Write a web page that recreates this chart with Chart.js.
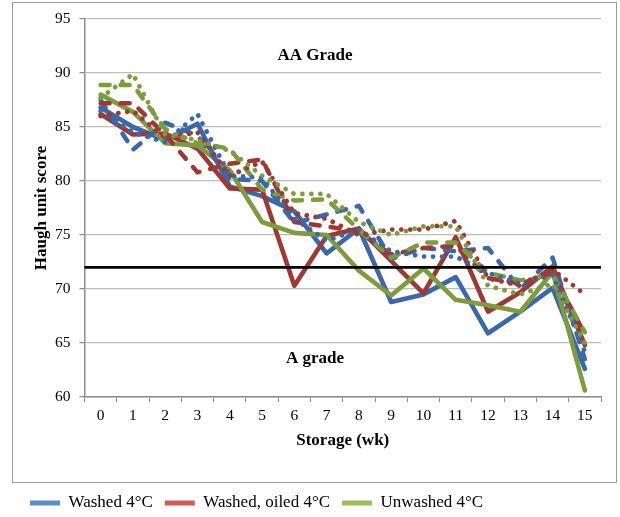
<!DOCTYPE html>
<html>
<head>
<meta charset="utf-8">
<script src="https://cdn.jsdelivr.net/npm/chart.js@4.4.1/dist/chart.umd.min.js"></script>
<style>
  html, body { margin: 0; padding: 0; background: #ffffff; }
  #wrap { width: 620px; height: 517px; }
</style>
</head>
<body>
<div id="wrap"><canvas id="chart" width="620" height="517"></canvas></div>
<script>
// Storage weeks (x categories)
const weeks = ['0','1','2','3','4','5','6','7','8','9','10','11','12','13','14','15'];

// Haugh unit scores, three runs per treatment
const washedRun1   = [86.8, 85.0, 83.8, 85.3, 79.5, 78.6, 77.2, 73.3, 75.6, 68.8, 69.5, 71.1, 65.9, 67.9, 70.1, 62.6];
const oiledRun1    = [86.2, 84.3, 84.4, 83.0, 79.3, 79.2, 70.3, 74.9, 75.6, 72.6, 69.6, 74.8, 67.9, 69.7, 72.1, 64.8];
const unwashedRun1 = [88.0, 86.4, 83.5, 83.3, 81.0, 76.2, 75.2, 75.0, 71.7, 69.4, 71.9, 69.0, 68.5, 67.9, 71.6, 60.6];

const washedRun2   = [87.5, 82.9, 85.4, 84.2, 80.2, 80.0, 76.1, 76.9, 77.7, 72.8, 73.8, 73.5, 73.8, 70.0, 72.9, 63.5];
const oiledRun2    = [87.2, 87.2, 84.3, 80.8, 81.6, 82.0, 76.2, 75.8, 75.3, 73.2, 73.8, 74.0, 71.0, 70.5, 71.5, 65.8];
const unwashedRun2 = [88.9, 88.9, 84.8, 83.5, 83.0, 79.2, 78.2, 78.3, 75.5, 72.9, 74.3, 74.3, 71.5, 70.8, 71.3, 66.0];

const washedRun3   = [86.5, 84.5, 83.6, 86.2, 80.5, 80.3, 76.5, 74.5, 75.5, 73.5, 73.0, 73.0, 71.5, 70.5, 71.3, 64.2];
const oiledRun3    = [86.0, 86.5, 84.0, 84.5, 80.5, 81.8, 77.0, 76.5, 75.0, 75.5, 75.5, 76.3, 71.0, 70.3, 71.8, 69.5];
const unwashedRun3 = [87.7, 89.9, 84.3, 83.8, 82.8, 80.5, 78.8, 78.8, 76.2, 75.0, 75.8, 75.8, 70.3, 69.5, 70.5, 65.0];

// Grade boundary and region labels
const gradeLimit = 72;
const gradeLabels = [
  { text: 'AA Grade', week: 6.64, score: 91.6 },
  { text: 'A grade',  week: 6.64, score: 63.6 }
];

const treatmentNames = ['Washed 4°C', 'Washed, oiled 4°C', 'Unwashed 4°C'];
const lineColors   = ['#3A68A8', '#9E3835', '#7E9C3E'];
const legendColors = ['#5B8DC9', '#CD5C57', '#9CBD5C'];

const SERIF = '"Liberation Serif", "Times New Roman", serif';
const DOT = [0.01, 9];
const DASH = [9, 11];

function series(label, data, colorIdx, dash, width) {
  return {
    label: label,
    data: data,
    borderColor: lineColors[colorIdx],
    backgroundColor: lineColors[colorIdx],
    borderWidth: width,
    borderDash: dash,
    borderCapStyle: 'round',
    borderJoinStyle: 'round',
    pointRadius: 0,
    pointHoverRadius: 0,
    tension: 0,
    fill: false
  };
}

const datasets = [
  series(treatmentNames[0], washedRun1, 0, [], 4.6),
  series(treatmentNames[1], oiledRun1, 1, [], 4.6),
  series(treatmentNames[2], unwashedRun1, 2, [], 4.6),
  series(treatmentNames[0] + ' (2)', washedRun2, 0, DASH, 4.5),
  series(treatmentNames[1] + ' (2)', oiledRun2, 1, DASH, 4.5),
  series(treatmentNames[2] + ' (2)', unwashedRun2, 2, DASH, 4.5),
  series(treatmentNames[0] + ' (3)', washedRun3, 0, DOT, 4.8),
  series(treatmentNames[1] + ' (3)', oiledRun3, 1, DOT, 4.8),
  series(treatmentNames[2] + ' (3)', unwashedRun3, 2, DOT, 4.8)
];
// later series paint over earlier ones
datasets.forEach((d, i) => { d.order = datasets.length - i; });

// Outer frame, grade boundary line and region captions
const decorations = {
  id: 'decorations',
  beforeDraw(chart) {
    const ctx = chart.ctx;
    ctx.save();
    ctx.strokeStyle = '#9a9a9a';
    ctx.lineWidth = 1;
    ctx.strokeRect(12.5, 2.5, 604, 480);
    ctx.restore();
  },
  afterDatasetsDraw(chart) {
    const ctx = chart.ctx;
    const area = chart.chartArea;
    const x = chart.scales.x, y = chart.scales.y;
    ctx.save();
    const yl = y.getPixelForValue(gradeLimit);
    ctx.strokeStyle = '#000000';
    ctx.lineWidth = 2.6;
    ctx.beginPath();
    ctx.moveTo(area.left, yl);
    ctx.lineTo(area.right, yl);
    ctx.stroke();
    ctx.fillStyle = '#000000';
    ctx.font = 'bold 17px ' + SERIF;
    ctx.textAlign = 'center';
    ctx.textBaseline = 'middle';
    gradeLabels.forEach(g => {
      ctx.fillText(g.text, x.getPixelForValue(g.week), y.getPixelForValue(g.score));
    });
    ctx.restore();
  }
};

new Chart(document.getElementById('chart'), {
  type: 'line',
  data: { labels: weeks, datasets: datasets },
  options: {
    responsive: false,
    animation: false,
    events: [],
    layout: { padding: { left: 18, right: 19, top: 19, bottom: 0 } },
    plugins: {
      tooltip: { enabled: false },
      legend: {
        position: 'bottom',
        align: 'start',
        maxHeight: 34.5,
        labels: {
          boxWidth: 30,
          boxHeight: 5,
          useBorderRadius: true,
          borderRadius: 2.5,
          padding: 12,
          color: '#000000',
          font: { family: SERIF, size: 17 },
          filter: item => item.datasetIndex < 3,
          generateLabels: chart => treatmentNames.map((name, i) => ({
            text: name,
            fillStyle: legendColors[i],
            strokeStyle: legendColors[i],
            lineWidth: 0,
            hidden: false,
            datasetIndex: i
          }))
        }
      }
    },
    scales: {
      x: {
        type: 'category',
        offset: true,
        afterFit: s => { s.height = 85.5; },
        border: { display: true, color: '#8c8c8c', width: 1.5 },
        grid: {
          display: true,
          offset: true,
          drawOnChartArea: false,
          drawTicks: true,
          tickLength: 5,
          tickColor: '#8c8c8c'
        },
        ticks: {
          color: '#000000',
          padding: 5,
          maxRotation: 0,
          autoSkip: false,
          font: { family: SERIF, size: 15.5 }
        },
        title: {
          display: true,
          text: 'Storage (wk)',
          color: '#000000',
          font: { family: SERIF, size: 17, weight: 'bold' },
          padding: { top: 0, bottom: 32 }
        }
      },
      y: {
        min: 60,
        max: 95,
        afterFit: s => { s.width = 66.5; },
        border: { display: true, color: '#8c8c8c', width: 1.5 },
        grid: {
          color: '#bdbdbd',
          lineWidth: 1.2,
          drawTicks: true,
          tickLength: 5,
          tickColor: '#8c8c8c'
        },
        ticks: {
          stepSize: 5,
          color: '#000000',
          padding: 9,
          font: { family: SERIF, size: 15.5 }
        },
        title: {
          display: true,
          text: 'Haugh unit score',
          color: '#000000',
          font: { family: SERIF, size: 17, weight: 'bold' },
          padding: { top: 13, bottom: 0 }
        }
      }
    }
  },
  plugins: [decorations]
});
</script>
</body>
</html>
